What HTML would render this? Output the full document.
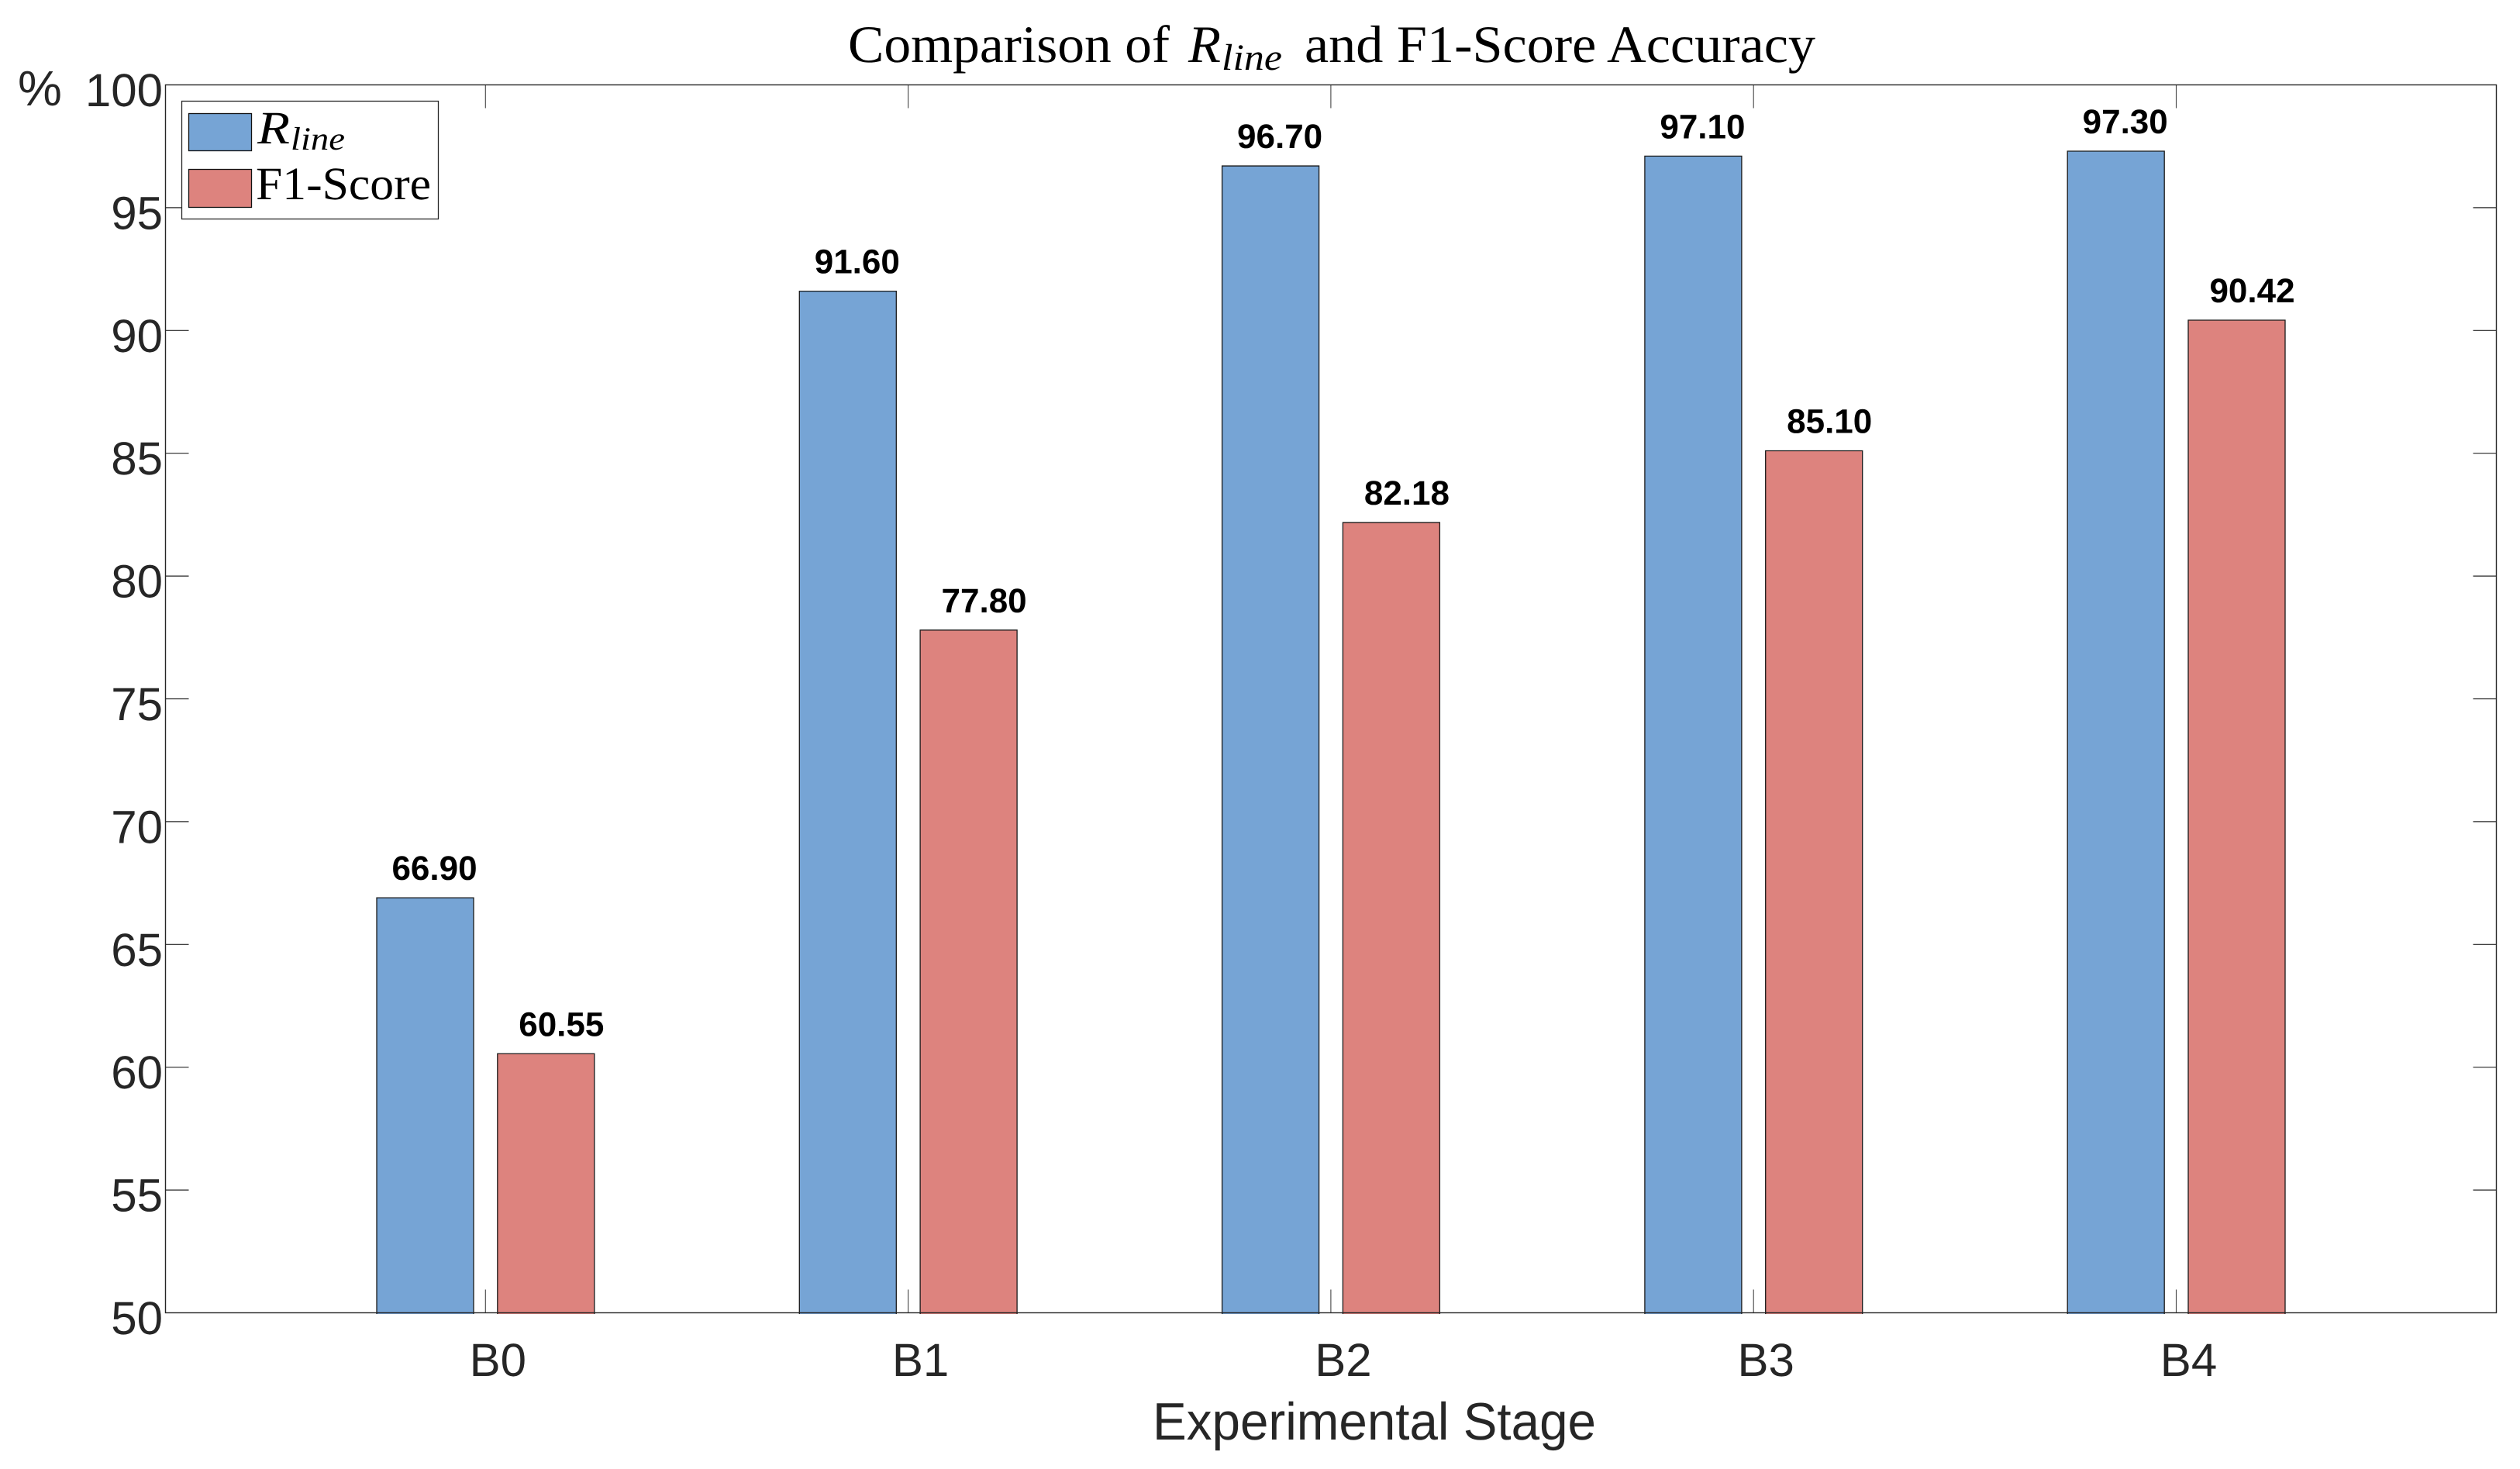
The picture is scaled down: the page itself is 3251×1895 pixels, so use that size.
<!DOCTYPE html>
<html lang="en">
<head>
<meta charset="utf-8">
<title>Comparison of Rline and F1-Score Accuracy</title>
<style>
html,body{margin:0;padding:0;background:#fff;}
body{width:3251px;height:1895px;overflow:hidden;}
svg{display:block;}
text{text-rendering:geometricPrecision;}
.sans{font-family:"Liberation Sans",Arial,sans-serif;fill:#262626;}
.serif{font-family:"Liberation Serif","Times New Roman",serif;fill:#000;}
</style>
</head>
<body>
<svg id="chart" xmlns="http://www.w3.org/2000/svg" width="3251" height="1895" viewBox="0 0 3251 1895">
  <rect x="0" y="0" width="3251" height="1895" fill="#fff"/>
  <g id="bars"></g>
  <g id="axes"></g>
  <g id="labels"></g>

  <g>
    <text class="serif" x="1094" y="80" font-size="68" textLength="415" lengthAdjust="spacingAndGlyphs">Comparison of</text>
    <text class="serif" x="1533" y="80" font-size="68" font-style="italic" textLength="42" lengthAdjust="spacingAndGlyphs">R</text>
    <text class="serif" x="1576" y="90" font-size="48" font-style="italic" textLength="78" lengthAdjust="spacingAndGlyphs">line</text>
    <text class="serif" x="1683" y="80" font-size="68" textLength="659" lengthAdjust="spacingAndGlyphs">and F1-Score Accuracy</text>
  </g>

  <text class="sans" x="23" y="136" font-size="64">%</text>
  <text class="sans" x="1487" y="1857" font-size="68" textLength="572" lengthAdjust="spacingAndGlyphs">Experimental Stage</text>

  <g>
    <rect x="234.5" y="130.5" width="331" height="152" fill="#fff" stroke="#262626" stroke-width="1.3"/>
    <g>
      <rect x="243.5" y="146.5" width="81" height="48" fill="#76a4d5" stroke="#111" stroke-width="1.3"/>
      <text class="serif" x="332" y="185" font-size="60" font-style="italic" textLength="42" lengthAdjust="spacingAndGlyphs">R</text>
      <text class="serif" x="375" y="193" font-size="42" font-style="italic" textLength="70" lengthAdjust="spacingAndGlyphs">line</text>
    </g>
    <g>
      <rect x="243.5" y="218.5" width="81" height="49" fill="#dd837e" stroke="#111" stroke-width="1.3"/>
      <text class="serif" x="330" y="257" font-size="60" textLength="226" lengthAdjust="spacingAndGlyphs">F1-Score</text>
    </g>
  </g>
</svg>
<script>
const categories = ['B0', 'B1', 'B2', 'B3', 'B4'];
const rlineValues = [66.90, 91.60, 96.70, 97.10, 97.30];
const f1Values = [60.55, 77.80, 82.18, 85.10, 90.42];
const yTicks = [50, 55, 60, 65, 70, 75, 80, 85, 90, 95, 100];

const NS = 'http://www.w3.org/2000/svg';
const plotLeft = 213.5, plotRight = 3220.5, plotTop = 109.5, plotBottom = 1693.5;
const yMin = 50, yMax = 100;
const firstCategoryX = 626.3, categoryStep = 545.3;
const barOffset = 140.3, barInnerGap = 15.5, barWidth = 125;

function yScale(v) {
  return plotBottom - (v - yMin) / (yMax - yMin) * (plotBottom - plotTop);
}
function xScale(i) {
  return firstCategoryX + i * categoryStep;
}
function make(tag, parent, attrs) {
  const el = document.createElementNS(NS, tag);
  for (const k in attrs) el.setAttribute(k, attrs[k]);
  parent.appendChild(el);
  return el;
}

const barsG = document.getElementById('bars');
const axesG = document.getElementById('axes');
const labelsG = document.getElementById('labels');

function drawBar(value, x, fill, name) {
  const top = yScale(value);
  const bottom = plotBottom + 1.5;
  const bar = make('path', barsG, {
    d: 'M' + x + ' ' + bottom + 'V' + top + 'H' + (x + barWidth) + 'V' + bottom,
    fill: fill, stroke: '#1a1a1a', 'stroke-width': 1.3
  });
  
  
}
function drawValue(value, cx, name) {
  const t = make('text', labelsG, {
    x: cx, y: yScale(value) - 23, 'text-anchor': 'middle',
    'font-family': '"Liberation Sans",Arial,sans-serif',
    'font-weight': 'bold', 'font-size': 44, fill: '#000'
  });
  t.textContent = value.toFixed(2);
  
  
}

categories.forEach(function (cat, i) {
  const c = xScale(i);
  const key = cat.toLowerCase();
  const blueX = c - barOffset;
  const redX = c + barInnerGap;
  drawBar(rlineValues[i], blueX, '#76a4d5', 'bar-rline-' + key);
  drawBar(f1Values[i], redX, '#dd837e', 'bar-f1-score-' + key);
  drawValue(rlineValues[i], blueX + barWidth / 2 + 12, 'value-label-rline-' + key);
  drawValue(f1Values[i], redX + barWidth / 2 + 20, 'value-label-f1-score-' + key);

  const tickBottom = make('line', axesG, { x1: c, x2: c, y1: plotBottom, y2: plotBottom - 30, stroke: '#444', 'stroke-width': 1.1 });
  
  
  const tickTop = make('line', axesG, { x1: c, x2: c, y1: plotTop, y2: plotTop + 30, stroke: '#444', 'stroke-width': 1.1 });
  
  

  const lab = make('text', axesG, { x: c + 16, y: 1775, 'text-anchor': 'middle', class: 'sans', 'font-size': 60 });
  lab.textContent = cat;
  
  
});

yTicks.forEach(function (v) {
  const y = yScale(v);
  if (v !== yMin && v !== yMax) {
    const tl = make('line', axesG, { x1: plotLeft, x2: plotLeft + 30, y1: y, y2: y, stroke: '#262626', 'stroke-width': 1.2 });
    
    
    const tr = make('line', axesG, { x1: plotRight - 30, x2: plotRight, y1: y, y2: y, stroke: '#262626', 'stroke-width': 1.2 });
    
    
  }
  const lab = make('text', axesG, { x: 210, y: y + 27.5, 'text-anchor': 'end', class: 'sans', 'font-size': 60 });
  lab.textContent = String(v);
  
  
});

const frame = make('rect', axesG, {
  x: plotLeft, y: plotTop, width: plotRight - plotLeft, height: plotBottom - plotTop,
  fill: 'none', stroke: '#262626', 'stroke-width': 1.4
});


</script>
</body>
</html>
